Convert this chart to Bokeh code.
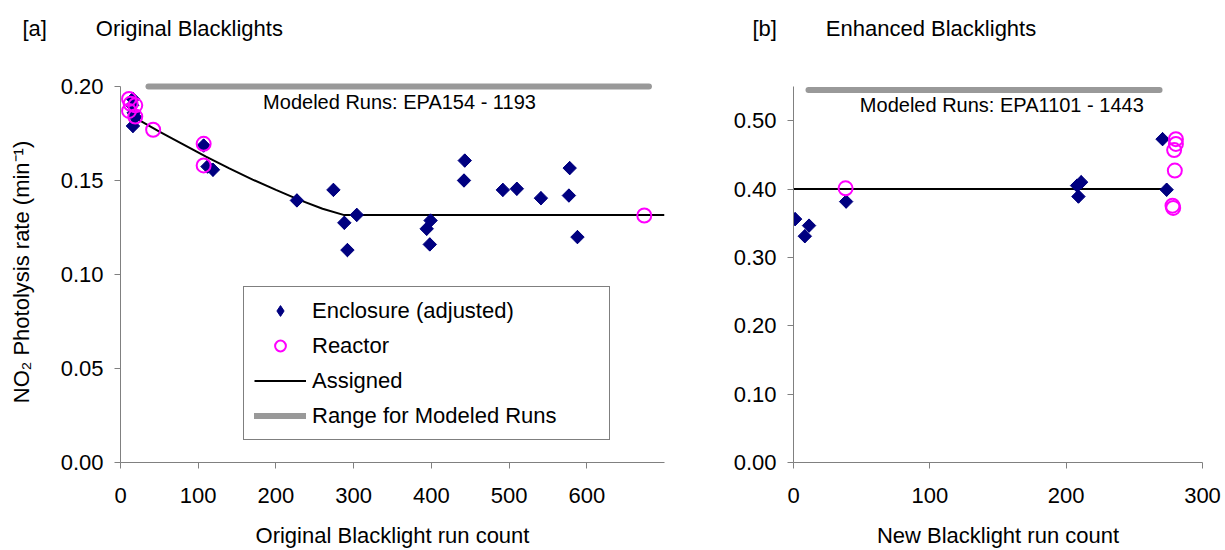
import math
from bokeh.plotting import figure
from bokeh.layouts import row
from bokeh.models import Range1d, FixedTicker, PrintfTickFormatter, Label, Legend, LegendItem, Title
from bokeh.embed import file_html
from bokeh.resources import INLINE

# ---------------- data: panel [a] Original Blacklights ----------------
a_enc_x = [16, 15, 17, 19, 16, 107, 112, 119, 227, 274, 288, 304, 292, 399, 394, 398,
           443, 442, 492, 510, 541, 578, 577, 588]
a_enc_y = [0.1934, 0.190, 0.186, 0.1837, 0.179, 0.1686, 0.1574, 0.1557, 0.1394, 0.145,
           0.1275, 0.1317, 0.113, 0.1287, 0.1243, 0.116, 0.1606, 0.150, 0.145, 0.1456,
           0.1406, 0.1566, 0.142, 0.1199]
a_rea_x = [11, 13, 19, 11, 19, 42, 107, 107, 674]
a_rea_y = [0.1934, 0.1908, 0.190, 0.187, 0.184, 0.177, 0.1695, 0.158, 0.1314]
a_assigned_x = [15, 20, 50, 80, 110, 140, 170, 200, 230, 260, 288, 700]
a_assigned_y = [0.1850, 0.1830, 0.1760, 0.1694, 0.1627, 0.1565, 0.1505, 0.1450, 0.1397,
                0.1350, 0.1316, 0.1316]
a_range_x = [36, 680]
a_range_y = [0.20, 0.20]
a_xticks = [0, 100, 200, 300, 400, 500, 600]
a_yticks = [0.00, 0.05, 0.10, 0.15, 0.20]

# ---------------- data: panel [b] Enhanced Blacklights ----------------
b_enc_x = [1.2, 11.4, 8.3, 38.6, 208, 211, 209, 270.7, 273.7]
b_enc_y = [0.356, 0.3465, 0.331, 0.3816, 0.405, 0.41, 0.389, 0.473, 0.399]
b_rea_x = [38.2, 280.5, 280.5, 279.2, 279.7, 278, 278.5]
b_rea_y = [0.401, 0.473, 0.466, 0.457, 0.427, 0.3757, 0.3724]
b_assigned_x = [0, 274]
b_assigned_y = [0.400, 0.400]
b_range_x = [11, 268.5]
b_range_y = [0.545, 0.545]
b_xticks = [0, 100, 200, 300]
b_yticks = [0.0, 0.1, 0.2, 0.3, 0.4, 0.5]

FONT = "Liberation Sans"
NAVY = "#000080"
MAGENTA = "#FF00FF"
GRAY = "#999999"
AXIS = "#808080"
GAP = "\u00a0" * 8


def style(p, xticks, yticks, xbounds, ybounds):
    p.xgrid.visible = False
    p.ygrid.visible = False
    p.outline_line_color = None
    p.background_fill_color = "white"
    p.border_fill_color = "white"
    for ax in (p.xaxis[0], p.yaxis[0]):
        ax.axis_line_color = AXIS
        ax.axis_line_width = 1
        ax.major_tick_line_color = AXIS
        ax.minor_tick_line_color = None
        ax.major_tick_out = 6
        ax.major_tick_in = 0
        ax.major_label_text_font = FONT
        ax.major_label_text_font_size = "22px"
        ax.major_label_text_color = "black"
        ax.axis_label_text_font = FONT
        ax.axis_label_text_font_size = "22px"
        ax.axis_label_text_font_style = "normal"
        ax.axis_label_text_color = "black"
    p.xaxis[0].ticker = FixedTicker(ticks=xticks)
    p.yaxis[0].ticker = FixedTicker(ticks=yticks)
    p.yaxis[0].formatter = PrintfTickFormatter(format="%.2f")
    p.xaxis[0].bounds = xbounds
    p.yaxis[0].bounds = ybounds
    p.xaxis[0].major_label_standoff = 19
    p.xaxis[0].axis_label_standoff = 17
    p.yaxis[0].major_label_standoff = 11
    p.yaxis[0].axis_label_standoff = 24


def add_title(p, text, offset):
    # invisible spacer nearest the frame, then the heading stacked above it
    p.add_layout(Title(text="\u00a0", text_font_size="1px", standoff=38), "above")
    p.add_layout(Title(text=text, text_font=FONT, text_font_size="22px",
                       text_font_style="normal", text_color="black", align="left",
                       offset=offset, standoff=0), "above")


def diamonds(p, xs, ys):
    # a true diamond underneath (used by the legend) and a rotated square on top
    r = p.scatter(xs, ys, marker="diamond", size=13, fill_color=NAVY, line_color=NAVY)
    p.scatter(xs, ys, marker="square", angle=math.pi / 4, size=9.5,
              fill_color=NAVY, line_color=NAVY)
    return r


# ---------------- panel [a] ----------------
p1 = figure(width=700, height=550, x_range=Range1d(0, 700), y_range=Range1d(0, 0.20266),
            output_backend="svg", toolbar_location=None,
            min_border_left=120, min_border_right=36, min_border_top=81, min_border_bottom=88)
style(p1, a_xticks, a_yticks, (0, 700), (0, 0.20))
add_title(p1, "[a]" + GAP + "Original Blacklights", -98)
p1.xaxis[0].axis_label = "Original Blacklight run count"
p1.yaxis[0].axis_label = "NO\u2082 Photolysis rate (min\u207b\u00b9)"

r_range = p1.line(a_range_x, a_range_y, line_width=6, line_color=GRAY, line_cap="round")
r_ass = p1.line(a_assigned_x, a_assigned_y, line_width=2, line_color="black")
r_enc = diamonds(p1, a_enc_x, a_enc_y)
r_rea = p1.scatter(a_rea_x, a_rea_y, marker="circle", size=14, fill_color=None,
                   line_color=MAGENTA, line_width=2)

p1.add_layout(Label(x=359, y=0.1917, text="Modeled Runs: EPA154 - 1193", text_font=FONT,
                    text_font_size="20px", text_align="center", text_baseline="middle",
                    text_color="black"))

legend = Legend(items=[
    LegendItem(label="Enclosure (adjusted)", renderers=[r_enc]),
    LegendItem(label="Reactor", renderers=[r_rea]),
    LegendItem(label="Assigned", renderers=[r_ass]),
    LegendItem(label="Range for Modeled Runs", renderers=[r_range]),
], location=(123, 22))
legend.label_text_font = FONT
legend.label_text_font_size = "22px"
legend.label_text_color = "black"
legend.glyph_width = 52
legend.glyph_height = 27
legend.label_height = 27
legend.label_width = 287
legend.label_standoff = 6
legend.spacing = 8
legend.padding = 10
legend.margin = 0
legend.border_line_color = "black"
legend.border_line_width = 1
legend.background_fill_color = "white"
legend.background_fill_alpha = 1
p1.add_layout(legend, "center")

# ---------------- panel [b] ----------------
p2 = figure(width=525, height=550, x_range=Range1d(0, 300), y_range=Range1d(0, 0.5573),
            output_backend="svg", toolbar_location=None,
            min_border_left=93, min_border_right=23, min_border_top=81, min_border_bottom=88)
style(p2, b_xticks, b_yticks, (0, 300), (0, 0.55))
add_title(p2, "[b]" + GAP + "Enhanced Blacklights", -41)
p2.xaxis[0].axis_label = "New Blacklight run count"

p2.line(b_range_x, b_range_y, line_width=6, line_color=GRAY, line_cap="round")
p2.line(b_assigned_x, b_assigned_y, line_width=2, line_color="black")
diamonds(p2, b_enc_x, b_enc_y)
p2.scatter(b_rea_x, b_rea_y, marker="circle", size=14, fill_color=None,
           line_color=MAGENTA, line_width=2)

p2.add_layout(Label(x=152.8, y=0.523, text="Modeled Runs: EPA1101 - 1443", text_font=FONT,
                    text_font_size="20px", text_align="center", text_baseline="middle",
                    text_color="black"))

layout = row(p1, p2)
open("out.html", "w").write(file_html(layout, INLINE))
